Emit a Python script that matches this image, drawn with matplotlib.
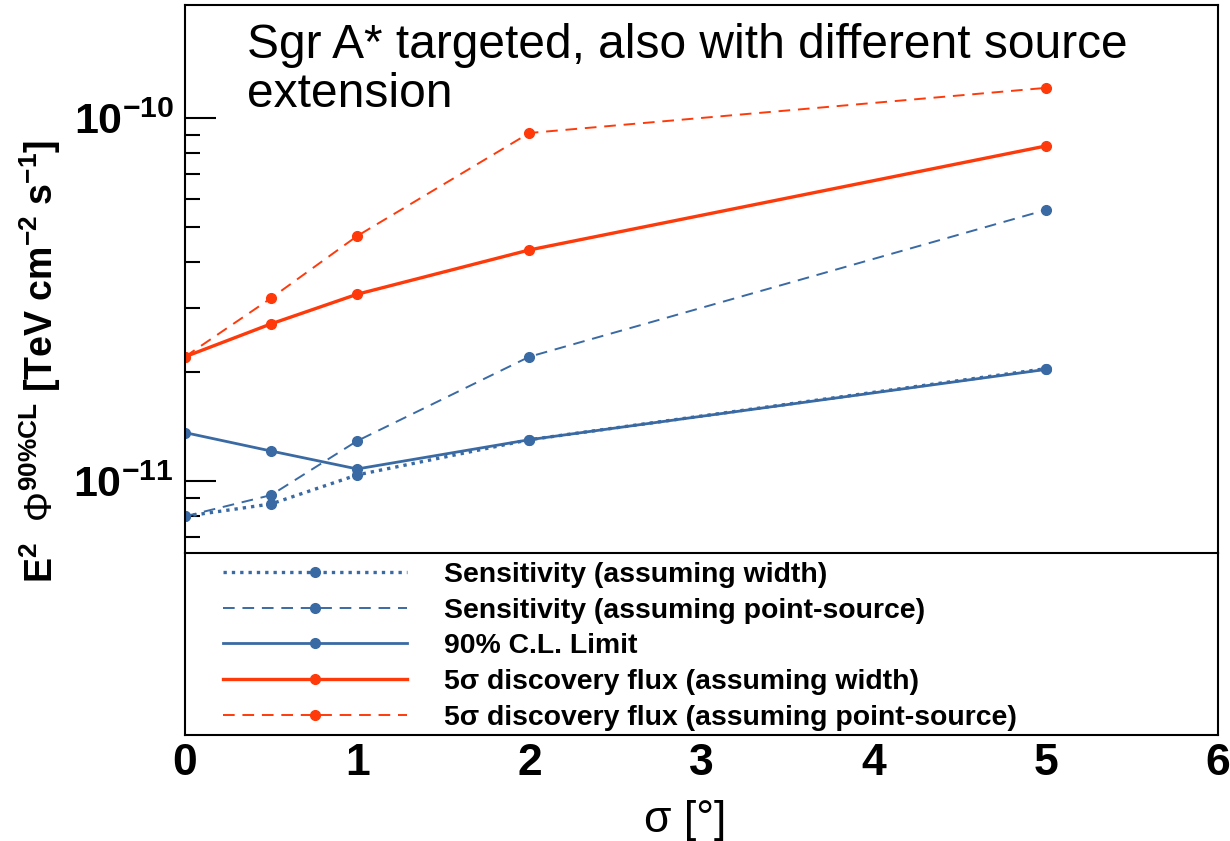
import numpy as np
import matplotlib
matplotlib.use('Agg')
import matplotlib.pyplot as plt
from matplotlib.ticker import NullFormatter, FixedLocator

plt.rcParams['font.family'] = ['Liberation Sans', 'DejaVu Sans']
plt.rcParams['mathtext.fontset'] = 'custom'
plt.rcParams['mathtext.rm'] = 'Liberation Sans'
plt.rcParams['mathtext.bf'] = 'Liberation Sans:bold'
plt.rcParams['mathtext.it'] = 'Liberation Sans:italic'

# source extension sigma [deg]
sigma = [0, 0.5, 1, 2, 5]

# E^2 flux [TeV cm^-2 s^-1]
sens_width = [8.0e-12, 8.65e-12, 1.04e-11, 1.30e-11, 2.04e-11]
sens_point = [8.0e-12, 9.15e-12, 1.29e-11, 2.20e-11, 5.58e-11]
cl_limit = [1.36e-11, 1.21e-11, 1.08e-11, 1.30e-11, 2.03e-11]
disc_width = [2.20e-11, 2.71e-11, 3.27e-11, 4.33e-11, 8.37e-11]
disc_point = [2.20e-11, 3.19e-11, 4.73e-11, 9.09e-11, 1.21e-10]

labels = ['Sensitivity (assuming width)',
          'Sensitivity (assuming point-source)',
          '90% C.L. Limit',
          '5\u03c3 discovery flux (assuming width)',
          '5\u03c3 discovery flux (assuming point-source)']

blue = '#3a6aa3'
red = '#ff3a0a'

fig = plt.figure(figsize=(12.3, 8.41), dpi=100)
ax = fig.add_axes([185 / 1230, 1 - 553 / 841, 1033 / 1230, 548 / 841])
lax = fig.add_axes([185 / 1230, 1 - 735 / 841, 1033 / 1230, 182 / 841])

ax.plot(sigma, sens_width, color=blue, lw=2.4, ls=(0, (1, 1.5)), marker='o', ms=7, label=labels[0])
ax.plot(sigma, sens_point, color=blue, lw=1.4, ls=(0, (6, 4)), marker='o', ms=7, label=labels[1])
ax.plot(sigma, cl_limit, color=blue, lw=2.0, ls='-', marker='o', ms=7, label=labels[2])
ax.plot(sigma, disc_width, color=red, lw=2.4, ls='-', marker='o', ms=7, label=labels[3])
ax.plot(sigma, disc_point, color=red, lw=1.4, ls=(0, (6, 4)), marker='o', ms=7, label=labels[4])

ax.set_yscale('log')
ax.set_xlim(0, 6)
ax.set_ylim(10 ** -11.198, 10 ** -9.689)
ax.yaxis.set_major_locator(FixedLocator([1e-11, 1e-10]))
minor = [k * 1e-12 for k in range(6, 10)] + [k * 1e-11 for k in range(2, 10)]
ax.yaxis.set_minor_locator(FixedLocator(minor))
ax.yaxis.set_minor_formatter(NullFormatter())
ax.set_yticklabels([r'$\mathbf{10^{-11}}$', r'$\mathbf{10^{-10}}$'])
ax.tick_params(axis='y', which='major', direction='in', length=22, width=1.5, labelsize=31, pad=8)
ax.tick_params(axis='y', which='minor', direction='in', length=11, width=1.5)
ax.tick_params(axis='x', bottom=False, labelbottom=False)
for s in ax.spines.values():
    s.set_linewidth(1.5)
ax.spines['bottom'].set_linewidth(1.2)

ax.text(0.06, 0.968, 'Sgr A* targeted, also with different source\nextension',
        transform=ax.transAxes, fontsize=34.5, va='top', ha='left', linespacing=1.12)

ax.set_ylabel(r'$\mathbf{E^{2}}\ \ \Phi^{\mathbf{90\%CL}}\ \mathbf{[TeV\ cm^{-2}\ s^{-1}]}$',
              fontsize=27)
ax.yaxis.set_label_coords(-0.118, 0.35, transform=ax.transAxes)

# legend panel below the curves
lax.set_xlim(0, 6)
lax.set_yticks([])
lax.set_xticks(range(7))
lax.set_xticklabels([str(i) for i in range(7)], fontweight='bold')
lax.tick_params(axis='x', length=0, labelsize=32, pad=6)
for s in lax.spines.values():
    s.set_linewidth(1.5)
lax.set_xlabel('\u03c3 [\u00b0]', fontsize=32)
lax.xaxis.set_label_coords(0.484, -0.355, transform=lax.transAxes)

h, l = ax.get_legend_handles_labels()
lax.legend(h, l, loc='upper left', bbox_to_anchor=(0.012, 1.09), frameon=False,
           handlelength=6.5, handletextpad=1.3, labelspacing=0.34, numpoints=1,
           prop={'weight': 'bold', 'size': 20.4})

fig.savefig('out.png', dpi=100)
